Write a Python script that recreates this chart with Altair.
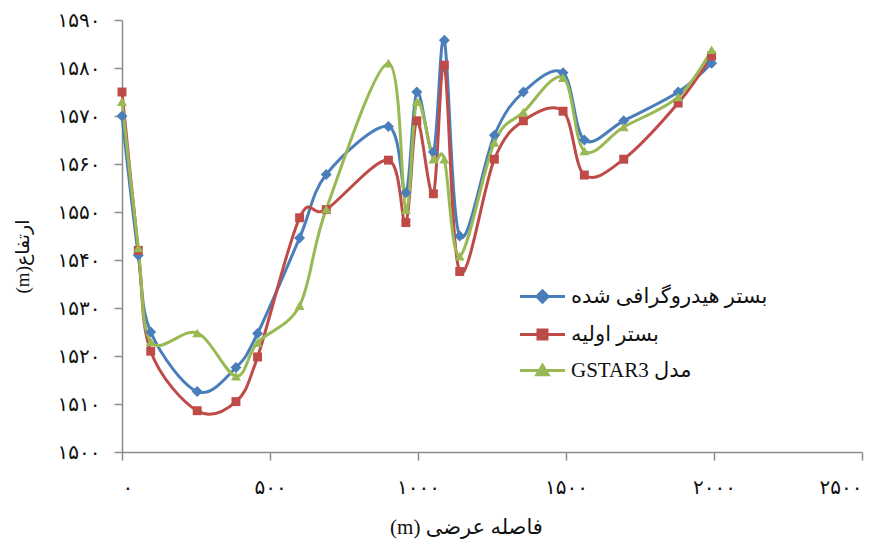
import altair as alt
import pandas as pd

# ---- data ----
x_vals = [0, 55, 97, 254, 385, 458, 600, 690, 900, 959, 996, 1052, 1089, 1141,
          1258, 1356, 1490, 1562, 1695, 1879, 1992]
blue_vals = [1570, 1541, 1525, 1512.6, 1517.6, 1524.7, 1544.6, 1557.8, 1567.8, 1554,
             1575, 1562.5, 1585.8, 1545, 1566, 1575, 1579, 1565, 1569, 1575, 1581]
red_vals = [1575, 1542, 1521, 1508.6, 1510.5, 1519.8, 1548.8, 1550.5, 1560.8, 1547.8,
            1569, 1553.8, 1580.6, 1537.6, 1561, 1569, 1571, 1557.7, 1561, 1572.7, 1582.5]
green_vals = [1573, 1542.5, 1523, 1524.8, 1515.8, 1522.8, 1530.5, 1550.6, 1581, 1550.5,
              1573, 1561, 1561, 1540.8, 1564.5, 1570.8, 1578, 1562.7, 1567.7, 1574, 1583.8]

series_names = ["بستر هیدروگرافی شده", "بستر اولیه", "\u202bمدل GSTAR3\u202c"]
series_colors = ["#4A7EBB", "#BE4B48", "#98B954"]
marker_shapes = ["diamond", "square", "triangle-up"]
marker_sizes = [120, 80, 100]
legend_paths = [
    "M-3,0H3M0,-0.75L0.75,0L0,0.75L-0.75,0Z",
    "M-3,0H3M-0.6,-0.6H0.6V0.6H-0.6Z",
    "M-3,0H3M0,-0.7L0.75,0.55H-0.75Z",
]

x_ticks = [0, 500, 1000, 1500, 2000, 2500]
x_tick_labels = ["۰", "۵۰۰", "۱۰۰۰", "۱۵۰۰", "۲۰۰۰", "۲۵۰۰"]
y_ticks = [1500, 1510, 1520, 1530, 1540, 1550, 1560, 1570, 1580, 1590]
y_tick_labels = ["۱۵۰۰", "۱۵۱۰", "۱۵۲۰", "۱۵۳۰", "۱۵۴۰", "۱۵۵۰", "۱۵۶۰", "۱۵۷۰", "۱۵۸۰", "۱۵۹۰"]

x_title = "\u202bفاصله عرضی (m)\u202c"
y_title = "\u202bارتفاع(m)\u202c"

rows = []
for name, vals in zip(series_names, [blue_vals, red_vals, green_vals]):
    for xv, yv in zip(x_vals, vals):
        rows.append({"x": xv, "y": yv, "series": name})
df = pd.DataFrame(rows)

FONT = "Liberation Serif, DejaVu Sans"
AFONT = "DejaVu Sans"


def label_expr(ticks, labels):
    t = ",".join(str(v) for v in ticks)
    l = ",".join("'" + s + "'" for s in labels)
    return f"[{l}][indexof([{t}], datum.value)]"


xenc = alt.X(
    "x:Q",
    scale=alt.Scale(domain=[0, 2500], nice=False, zero=False),
    axis=alt.Axis(values=x_ticks, labelExpr=label_expr(x_ticks, x_tick_labels),
                  title=x_title, grid=False, tickSize=8, labelPadding=17,
                  titleX=344, titleY=75, titleBaseline="middle",
                  titleFont=FONT, titleFontSize=21),
)
yenc = alt.Y(
    "y:Q",
    scale=alt.Scale(domain=[1500, 1590], nice=False, zero=False),
    axis=alt.Axis(values=y_ticks, labelExpr=label_expr(y_ticks, y_tick_labels),
                  title=y_title, grid=False, tickSize=8, labelPadding=14,
                  titleAngle=-90, titleX=-100, titleY=236, titleBaseline="middle",
                  titleAlign="center", titleFont=FONT, titleFontSize=19),
)

layers = []
for name, col in zip(series_names, series_colors):
    layers.append(
        alt.Chart(df).transform_filter(alt.datum.series == name)
        .mark_line(interpolate="cardinal", strokeWidth=3, color=col)
        .encode(x=xenc, y=yenc)
    )
for name, col, shp, sz in zip(series_names, series_colors, marker_shapes, marker_sizes):
    layers.append(
        alt.Chart(df).transform_filter(alt.datum.series == name)
        .mark_point(shape=shp, size=sz, filled=True, opacity=1, color=col)
        .encode(x="x:Q", y="y:Q")
    )

leg = alt.Legend(title=None, orient="none", legendX=410, legendY=266,
                 labelFont=FONT, labelFontSize=21, labelColor="#111111",
                 symbolSize=225, symbolStrokeWidth=3, symbolOpacity=1,
                 labelOffset=18, rowPadding=14, labelLimit=400)
legend_layer = alt.Chart(df).transform_filter(alt.datum.x < -1).mark_point(
    filled=True, strokeWidth=3, opacity=1).encode(
    x="x:Q", y="y:Q",
    fill=alt.Fill("series:N", scale=alt.Scale(domain=series_names, range=series_colors), legend=leg),
    stroke=alt.Stroke("series:N", scale=alt.Scale(domain=series_names, range=series_colors), legend=leg),
    shape=alt.Shape("series:N", scale=alt.Scale(domain=series_names, range=legend_paths), legend=leg),
)
layers.append(legend_layer)

chart = alt.layer(*layers).properties(
    width=740, height=432,
    autosize=alt.AutoSizeParams(type="none"),
    padding={"left": 114, "top": 12, "right": 12, "bottom": 92},
).configure(background="white").configure_view(stroke=None).configure_axis(
    domainColor="#8C8C8C", domainWidth=1.5, tickColor="#8C8C8C", tickWidth=1.5,
    labelFont=AFONT, labelFontSize=20, labelColor="#111111",
    titleColor="#111111", titleFontWeight="normal",
)

chart.save("out.html", embed_options={"renderer": "svg", "actions": False})
